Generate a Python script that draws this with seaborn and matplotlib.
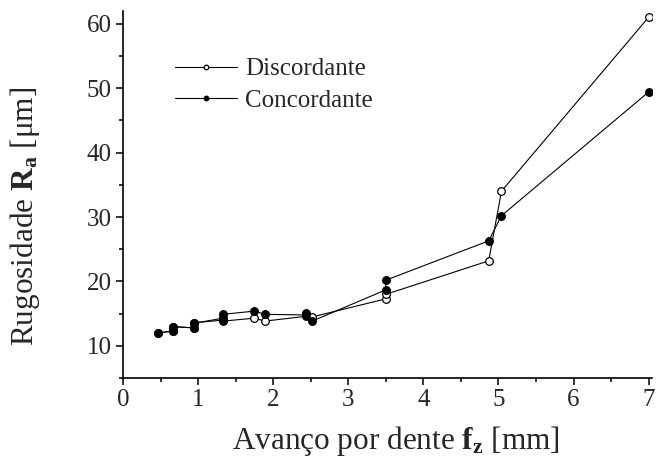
import pandas as pd
import matplotlib.pyplot as plt
import seaborn as sns

# values
disc_x = [0.46, 0.66, 0.66, 0.94, 0.94, 1.33, 1.33, 1.75, 1.89, 2.44, 2.44, 2.52, 3.50, 3.50, 4.87, 5.04, 7.00]
disc_y = [12.0, 12.3, 13.0, 12.8, 13.5, 14.3, 13.85, 14.3, 13.85, 14.6, 14.8, 14.5, 17.3, 18.0, 23.2, 34.0, 61.0]
conc_x = [0.46, 0.66, 0.66, 0.94, 0.94, 1.33, 1.33, 1.75, 1.89, 2.44, 2.44, 2.52, 3.50, 3.50, 4.87, 5.04, 7.00]
conc_y = [12.0, 12.3, 13.0, 12.8, 13.6, 14.0, 14.9, 15.4, 14.9, 14.8, 15.1, 13.85, 18.7, 20.2, 26.3, 30.2, 49.4]

disc = pd.DataFrame({"fz": disc_x, "Ra": disc_y})
conc = pd.DataFrame({"fz": conc_x, "Ra": conc_y})

sns.set_style("ticks")
plt.rcParams["font.family"] = ["Liberation Serif", "DejaVu Serif"]
plt.rcParams["mathtext.fontset"] = "custom"
plt.rcParams["mathtext.rm"] = "Liberation Serif"
plt.rcParams["mathtext.bf"] = "Liberation Serif:bold"
plt.rcParams["mathtext.it"] = "Liberation Serif:italic"

fig = plt.figure(figsize=(6.56, 4.68), dpi=100)
ax = fig.add_axes([0.1875, 0.192, 0.807, 0.785])

sns.lineplot(data=disc, x="fz", y="Ra", sort=False, estimator=None, ax=ax,
             color="black", lw=0.8, marker="o", markersize=5.5,
             markerfacecolor="white", markeredgecolor="black", markeredgewidth=0.9,
             label="Discordante")
sns.lineplot(data=conc, x="fz", y="Ra", sort=False, estimator=None, ax=ax,
             color="black", lw=0.8, marker="o", markersize=5.5,
             markerfacecolor="black", markeredgecolor="black", markeredgewidth=0.9,
             label="Concordante")

ax.set_xlim(0, 7.05)
ax.set_ylim(5, 62)
ax.set_xticks(range(0, 8))
ax.set_yticks([10, 20, 30, 40, 50, 60])
ax.set_xticks([i + 0.5 for i in range(7)], minor=True)
ax.set_yticks([5, 15, 25, 35, 45, 55], minor=True)
ax.tick_params(axis="both", which="major", direction="out", length=5, width=1.1,
               labelsize=18, color="black", pad=3)
ax.tick_params(axis="both", which="minor", direction="out", length=3, width=1.1, color="black")

sns.despine(ax=ax)
for s in ["left", "bottom"]:
    ax.spines[s].set_linewidth(1.2)
    ax.spines[s].set_color("black")

ax.set_xlabel(r"Avanço por dente $\mathbf{f_z}$ [mm]", fontsize=22.5)
ax.set_ylabel(r"Rugosidade $\mathbf{R_a}$ [μm]", fontsize=22.5)
ax.xaxis.set_label_coords(0.515, -0.125)
ax.yaxis.set_label_coords(-0.153, 0.44)

ax.legend(loc="upper left", bbox_to_anchor=(0.098, 0.872), frameon=False,
          fontsize=18, markerscale=0.6, handlelength=2.5, handletextpad=0.32,
          borderpad=0, borderaxespad=0, labelspacing=0.37)

fig.savefig("out.png", dpi=100)
